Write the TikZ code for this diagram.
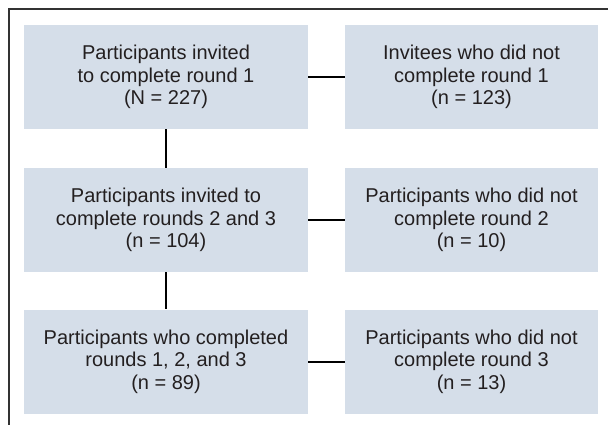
\documentclass[tikz,border=0pt]{standalone}
\usepackage{fontspec}
\setmainfont{Liberation Sans}
\definecolor{boxfill}{HTML}{D5DEE9}
\definecolor{txt}{HTML}{231F20}
\definecolor{frame}{HTML}{333333}
\tikzset{
  flowbox/.style={fill=boxfill, draw=none, minimum width=#1, minimum height=104pt, inner sep=0pt, align=center, text=txt, font=\fontsize{20}{22.5}\selectfont},
  link/.style={line width=2pt, draw=black}
}
\begin{document}
\begin{tikzpicture}[x=1pt,y=-1pt]
\useasboundingbox (0,0) rectangle (608,424);
\clip (0,0) rectangle (608,424);
\draw[frame, line width=2pt] (9,440) -- (9,9) -- (620,9);
\node[flowbox=284pt] (a) at (166,77) {Participants invited\\to complete round 1\\(N = 227)};
\node[flowbox=253pt] (b) at (471.5,77) {Invitees who did not\\complete round 1\\(n = 123)};
\node[flowbox=284pt] (c) at (166,220) {Participants invited to\\complete rounds 2 and 3\\(n = 104)};
\node[flowbox=253pt] (d) at (471.5,220) {Participants who did not\\complete round 2\\(n = 10)};
\node[flowbox=284pt] (e) at (166,361.5) {Participants who completed\\rounds 1, 2, and 3\\(n = 89)};
\node[flowbox=253pt] (f) at (471.5,361.5) {Participants who did not\\complete round 3\\(n = 13)};
\draw[link] (a) -- (c);
\draw[link] (c) -- (e);
\draw[link] (a) -- (b);
\draw[link] (c) -- (d);
\draw[link] (e) -- (f);
\end{tikzpicture}
\end{document}
